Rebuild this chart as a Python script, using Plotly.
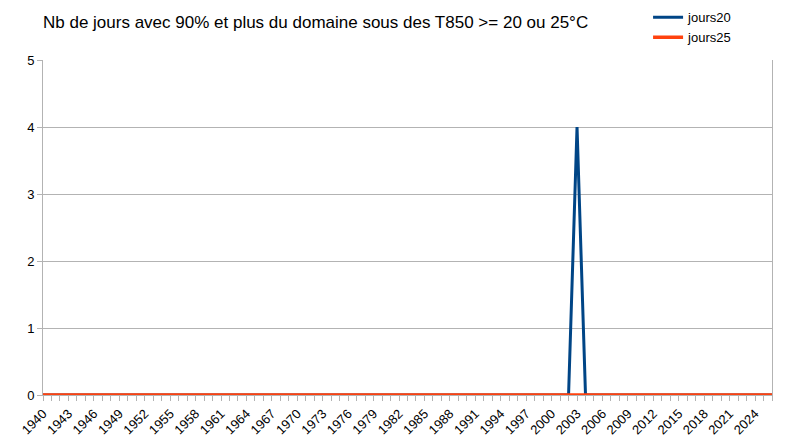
import plotly.graph_objects as go

# Années et nombre de jours
annees = list(range(1940, 2027))
jours20 = [0] * len(annees)
jours20[annees.index(2003)] = 4
jours25 = [0] * len(annees)

etiquettes = list(range(1940, 2025, 3))

fig = go.Figure()

fig.add_trace(go.Scatter(x=annees, y=jours20, name='jours20', mode='lines',
                         line=dict(color='#004586', width=3)))
fig.add_trace(go.Scatter(x=annees, y=jours25, name='jours25', mode='lines',
                         line=dict(color='#ff420e', width=3.5)))

# la page ajoute 8px de marge autour du graphique
fig.update_layout(
    width=792, height=444,
    margin=dict(l=35, r=28, t=52, b=57, autoexpand=False),
    paper_bgcolor='white', plot_bgcolor='white',
    font=dict(family='Liberation Sans, Arial, sans-serif', size=12, color='black'),
    title=dict(text='Nb de jours avec 90% et plus du domaine sous des T850 >= 20 ou 25°C',
               x=0, xref='paper', xanchor='left', y=1 - 14 / 444, yref='container',
               yanchor='middle', font=dict(size=17)),
    legend=dict(x=0.83, y=1.172, xanchor='left', yanchor='top',
                font=dict(size=13), tracegroupgap=0, itemwidth=30,
                bgcolor='rgba(0,0,0,0)'),
    showlegend=True,
)

fig.update_xaxes(
    range=[1940, 2026], tickvals=etiquettes, ticktext=[str(a) for a in etiquettes],
    tickangle=-45, tickfont=dict(size=13),
    ticks='outside', ticklen=5, tickcolor='#b3b3b3',
    minor=dict(dtick=1, ticks='outside', ticklen=5, tickcolor='#b3b3b3'),
    showgrid=False, showline=True, linecolor='#b3b3b3', mirror=False, zeroline=False,
)
fig.update_yaxes(
    range=[0, 5], dtick=1, tickfont=dict(size=13),
    showgrid=True, gridcolor='#b3b3b3', gridwidth=1,
    ticks='outside', ticklen=5, tickcolor='#b3b3b3',
    showline=True, linecolor='#b3b3b3', mirror=True, zeroline=False,
)

fig.write_html("out.html")
